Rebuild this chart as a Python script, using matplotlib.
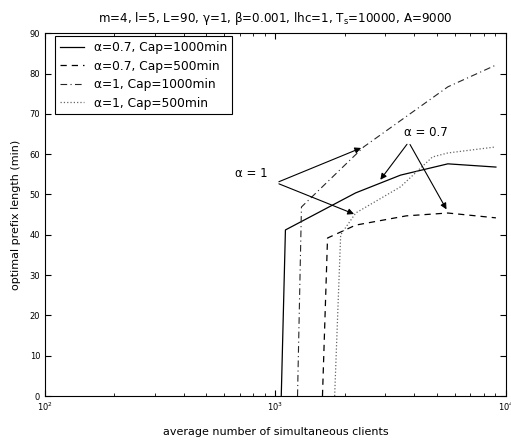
import matplotlib.pyplot as plt
import numpy as np

# data
x_a07_c1000 = [1060, 1105, 2230, 3490, 5600, 9050]
y_a07_c1000 = [0, 41.2, 50.4, 54.8, 57.6, 56.8]

x_a07_c500 = [1600, 1683, 2230, 3700, 5600, 9050]
y_a07_c500 = [0, 39.2, 42.4, 44.7, 45.4, 44.2]

x_a1_c1000 = [1247, 1297, 2415, 5600, 9050]
y_a1_c1000 = [0, 46.9, 61.8, 76.7, 82.1]

x_a1_c500 = [1807, 1919, 2230, 3490, 4800, 5600, 9050]
y_a1_c500 = [0, 40.0, 45.4, 51.9, 59.3, 60.3, 61.8]

fig = plt.figure(figsize=(5.11, 4.43), dpi=100)
ax = fig.add_axes([0.088, 0.106, 0.902, 0.819])

ax.plot(x_a07_c1000, y_a07_c1000, 'k-', lw=0.9, label='α=0.7, Cap=1000min')
ax.plot(x_a07_c500, y_a07_c500, 'k--', lw=0.9, dashes=(5, 4), label='α=0.7, Cap=500min')
ax.plot(x_a1_c1000, y_a1_c1000, '-.', color='0.15', lw=0.8, dashes=(6, 3, 1, 3), label='α=1, Cap=1000min')
ax.plot(x_a1_c500, y_a1_c500, ':', color='0.4', lw=0.9, label='α=1, Cap=500min')

ax.set_xscale('log')
ax.set_xlim(100, 10000)
ax.set_ylim(0, 90)
ax.set_yticks(np.arange(0, 91, 10))
ax.tick_params(which='both', direction='in', top=True, right=True, labelsize=6)
ax.tick_params(which='major', length=4)
ax.tick_params(which='minor', length=2)

ax.set_xlabel('average number of simultaneous clients', fontsize=8, labelpad=10)
ax.set_ylabel('optimal prefix length (min)', fontsize=8, labelpad=6)
ax.set_title(r'm=4, l=5, L=90, γ=1, β=0.001, lhc=1, T$_\mathregular{s}$=10000, A=9000',
             fontsize=8.6, pad=8)

arrow = dict(arrowstyle='-|>', color='k', lw=0.8, mutation_scale=9)
ax.text(4490, 65.3, 'α = 0.7', fontsize=8.5, ha='center', va='center')
ax.annotate('', xy=(2805, 53.1), xytext=(3785, 63.0), arrowprops=arrow)
ax.annotate('', xy=(5600, 45.7), xytext=(3785, 63.0), arrowprops=arrow)
ax.text(787, 55.1, 'α = 1', fontsize=8.5, ha='center', va='center')
ax.annotate('', xy=(2415, 61.8), xytext=(1009, 52.9), arrowprops=arrow)
ax.annotate('', xy=(2250, 44.9), xytext=(1009, 52.9), arrowprops=arrow)

leg = ax.legend(loc='upper left', bbox_to_anchor=(0.022, 0.992), borderaxespad=0,
                fontsize=8.8, fancybox=False, edgecolor='k', handlelength=2.0,
                labelspacing=0.45, framealpha=1)
leg.get_frame().set_linewidth(0.8)

for s in ax.spines.values():
    s.set_linewidth(0.8)

fig.savefig('out.png', dpi=100)
